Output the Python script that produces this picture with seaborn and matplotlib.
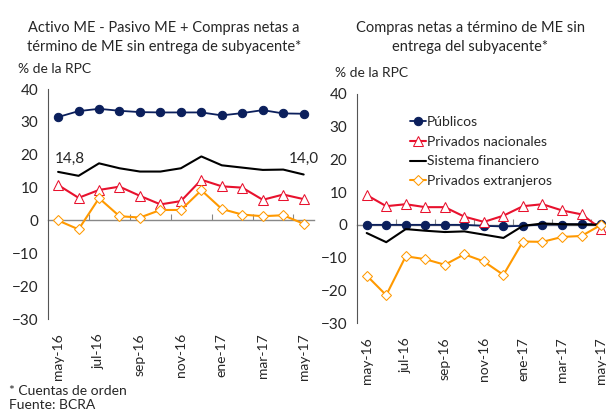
import matplotlib
matplotlib.use("Agg")
import matplotlib.pyplot as plt
import seaborn as sns

# ---------------- datos ----------------
meses = ["may-16", "jun-16", "jul-16", "ago-16", "sep-16", "oct-16", "nov-16",
         "dic-16", "ene-17", "feb-17", "mar-17", "abr-17", "may-17"]
etiquetas_x = ["may-16", "jul-16", "sep-16", "nov-16", "ene-17", "mar-17", "may-17"]

# Panel izquierdo: Activo ME - Pasivo ME + Compras netas a término
izq_publicos = [31.5, 33.3, 34.0, 33.4, 33.0, 32.9, 32.9, 32.9, 32.0, 32.7, 33.6, 32.6, 32.5]
izq_nacionales = [10.8, 6.9, 9.3, 10.3, 7.5, 4.9, 5.9, 12.4, 10.4, 10.0, 6.3, 7.9, 6.5]
izq_sistema = [14.8, 13.6, 17.4, 15.9, 14.9, 14.9, 15.9, 19.5, 16.8, 16.1, 15.4, 15.5, 14.0]
izq_extranjeros = [0.0, -2.7, 6.8, 1.3, 0.9, 3.2, 3.2, 9.2, 3.5, 1.8, 1.3, 1.6, -1.0]

# Panel derecho: Compras netas a término
der_publicos = [0.0, 0.0, 0.0, 0.0, 0.0, 0.0, -0.3, -0.5, -0.3, 0.1, 0.1, 0.2, 0.2]
der_nacionales = [9.1, 5.7, 6.3, 5.4, 5.4, 2.5, 0.9, 2.8, 5.7, 6.3, 4.4, 3.2, -1.2]
der_sistema = [-2.5, -5.3, -1.3, -1.8, -2.2, -2.0, -3.0, -4.0, -0.3, 0.4, 0.2, 0.1, 0.0]
der_extranjeros = [-15.5, -21.5, -9.6, -10.5, -12.2, -9.0, -11.2, -15.3, -5.1, -5.2, -3.7, -3.4, 0.0]

nombres = ["Públicos", "Privados nacionales", "Sistema financiero", "Privados extranjeros"]
colores = ["#0b1f5c", "#e8112d", "#000000", "#ff9900"]

sns.set_style("white")
plt.rcParams["font.family"] = ["Lato", "DejaVu Sans"]
plt.rcParams["font.size"] = 10

fig = plt.figure(figsize=(6.06, 4.12), dpi=100)
ax1 = fig.add_axes([0.079, 0.2257, 0.439, 0.558])
ax2 = fig.add_axes([0.589, 0.216, 0.419, 0.556])

pos = list(range(len(meses)))


def dibujar(ax, pub, nac, sis, ext):
    sns.lineplot(x=pos, y=pub, ax=ax, color=colores[0], lw=1.3, marker="o",
                 markersize=6, markeredgecolor=colores[0], label=nombres[0])
    sns.lineplot(x=pos, y=nac, ax=ax, color=colores[1], lw=1.5, marker="^",
                 markersize=7, markerfacecolor="white", markeredgecolor=colores[1],
                 label=nombres[1])
    sns.lineplot(x=pos, y=sis, ax=ax, color=colores[2], lw=1.5, label=nombres[2])
    sns.lineplot(x=pos, y=ext, ax=ax, color=colores[3], lw=1.5, marker="D",
                 markersize=5, markerfacecolor="white", markeredgecolor=colores[3],
                 label=nombres[3])

    ax.set_xlim(-0.5, 12.5)
    ax.set_ylim(-30, 40)
    ax.set_yticks(range(-30, 41, 10))
    ax.set_xticks(range(0, 13, 2))
    ax.set_xticklabels(etiquetas_x, rotation=90, fontsize=10)
    ax.tick_params(axis="x", length=0, pad=10)
    ax.tick_params(axis="y", length=4, width=0.8, direction="out", color="#555555",
                   labelsize=11, pad=3)
    for s in ["top", "right", "bottom"]:
        ax.spines[s].set_visible(False)
    ax.spines["left"].set_color("#555555")
    ax.spines["left"].set_linewidth(0.8)
    ax.set_xlabel("")
    ax.set_ylabel("")

    # eje en cero con marcas entre meses
    eje0 = ax.secondary_xaxis(3 / 7)
    eje0.set_xticks([1.5, 3.5, 5.5, 7.5, 9.5, 11.5])
    eje0.set_xticklabels([])
    eje0.tick_params(direction="in", length=4, color="#888888", width=0.8)
    eje0.spines["bottom"].set_color("#888888")
    eje0.spines["bottom"].set_linewidth(1.0)
    eje0.set_zorder(0)


dibujar(ax1, izq_publicos, izq_nacionales, izq_sistema, izq_extranjeros)
dibujar(ax2, der_publicos, der_nacionales, der_sistema, der_extranjeros)

ax1.get_legend().remove()
ax2.legend(loc="upper left", bbox_to_anchor=(0.677, 0.718), bbox_transform=fig.transFigure,
           frameon=False, fontsize=10, handlelength=1.1, handletextpad=0.1,
           labelspacing=0.55, borderpad=0, borderaxespad=0)

# etiquetas del sistema financiero
ax1.text(-0.15, izq_sistema[0] + 3.9, "14,8", fontsize=11, ha="left", va="center")
ax1.text(12.0, izq_sistema[-1] + 4.7, "14,0", fontsize=11, ha="center", va="center")

# títulos y textos
fig.text(0.271, 0.95, "Activo ME - Pasivo ME + Compras netas a\ntérmino de ME sin entrega de subyacente*",
         ha="center", va="top", fontsize=10.5, linespacing=1.45)
fig.text(0.776, 0.95, "Compras netas a término de ME sin\nentrega del subyacente*",
         ha="center", va="top", fontsize=10.5, linespacing=1.45)
fig.text(0.03, 0.832, "% de la RPC", fontsize=10, va="center")
fig.text(0.552, 0.822, "% de la RPC", fontsize=10, va="center")
fig.text(0.015, 0.052, "* Cuentas de orden", fontsize=10, va="center")
fig.text(0.015, 0.016, "Fuente: BCRA", fontsize=10, va="center")

fig.savefig("out.png", dpi=100)
